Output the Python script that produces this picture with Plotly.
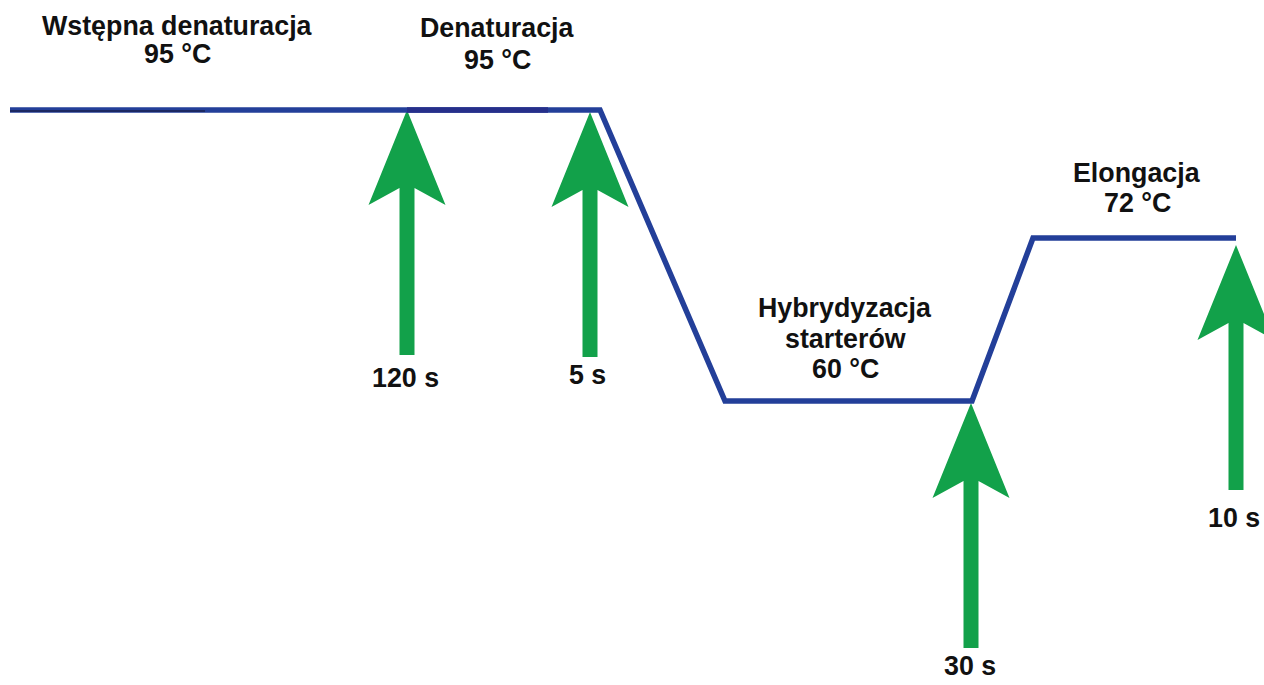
import plotly.graph_objects as go

# ---- schematic PCR temperature profile (diagram units) ----
profile_x = [10, 600, 725, 972, 1033, 1236]
profile_y = [110, 110, 401, 401, 238, 238]

# darker segments visible on the first plateau
dark_x = [10, 205]
dark_y = [111, 111]
mid_x = [407, 548]
mid_y = [110, 110]

# step-end arrows (tip points) and durations
arrow_x = [407, 590, 971, 1236]
arrow_y = [110, 112, 403, 245]
durations = ["120 s", "5 s", "30 s", "10 s"]
dur_label_x = [405, 587, 970, 1234]
dur_label_y = [378, 375, 666, 518]

# stage titles (one entry per line)
stage_lines = ["Wstępna denaturacja", "95 °C",
               "Denaturacja", "95 °C",
               "Hybrydyzacja", "starterów", "60 °C",
               "Elongacja", "72 °C"]
stage_x = [177, 177, 497, 497, 845, 845, 845, 1137, 1137]
stage_y = [26, 54, 28, 60, 308, 339, 369, 173, 203]

BLUE = "#233F99"
GREEN = "#12A14A"
FONT = dict(family="Liberation Sans, Arial, sans-serif", size=26.8, color="#111111")

fig = go.Figure()

# arrows as filled polygons
HEAD_LEN, HEAD_HALF, NOTCH, SHAFT_HALF, TOTAL = 95, 38.5, 78, 7.5, 245
for ax, ay in zip(arrow_x, arrow_y):
    xs = [ax, ax + HEAD_HALF, ax + SHAFT_HALF, ax + SHAFT_HALF,
          ax - SHAFT_HALF, ax - SHAFT_HALF, ax - HEAD_HALF, ax]
    ys = [ay, ay + HEAD_LEN, ay + NOTCH, ay + TOTAL,
          ay + TOTAL, ay + NOTCH, ay + HEAD_LEN, ay]
    fig.add_trace(go.Scatter(x=xs, y=ys, mode="lines", fill="toself",
                             fillcolor=GREEN, line=dict(width=0, color=GREEN),
                             hoverinfo="skip", showlegend=False))

# temperature profile
fig.add_trace(go.Scatter(x=profile_x, y=profile_y, mode="lines",
                         line=dict(color=BLUE, width=5.5),
                         hoverinfo="skip", showlegend=False))
fig.add_trace(go.Scatter(x=mid_x, y=mid_y, mode="lines",
                         line=dict(color="#262F8A", width=5.5),
                         hoverinfo="skip", showlegend=False))
fig.add_trace(go.Scatter(x=dark_x, y=dark_y, mode="lines",
                         line=dict(color="#1B2250", width=1.5),
                         hoverinfo="skip", showlegend=False))

for t, x, y in zip(stage_lines, stage_x, stage_y):
    fig.add_annotation(x=x, y=y, text="<b>%s</b>" % t, showarrow=False,
                       xanchor="center", yanchor="middle", font=FONT)
for t, x, y in zip(durations, dur_label_x, dur_label_y):
    fig.add_annotation(x=x, y=y, text="<b>%s</b>" % t, showarrow=False,
                       xanchor="center", yanchor="middle", font=FONT)

fig.update_layout(
    width=1264, height=685,
    margin=dict(l=0, r=0, t=0, b=0),
    paper_bgcolor="white", plot_bgcolor="white",
    xaxis=dict(range=[0, 1264], visible=False, fixedrange=True),
    yaxis=dict(range=[685, 0], visible=False, fixedrange=True),
)

fig.write_html("out.html", post_script="document.body.style.margin='0';",
               config={"displayModeBar": False})
